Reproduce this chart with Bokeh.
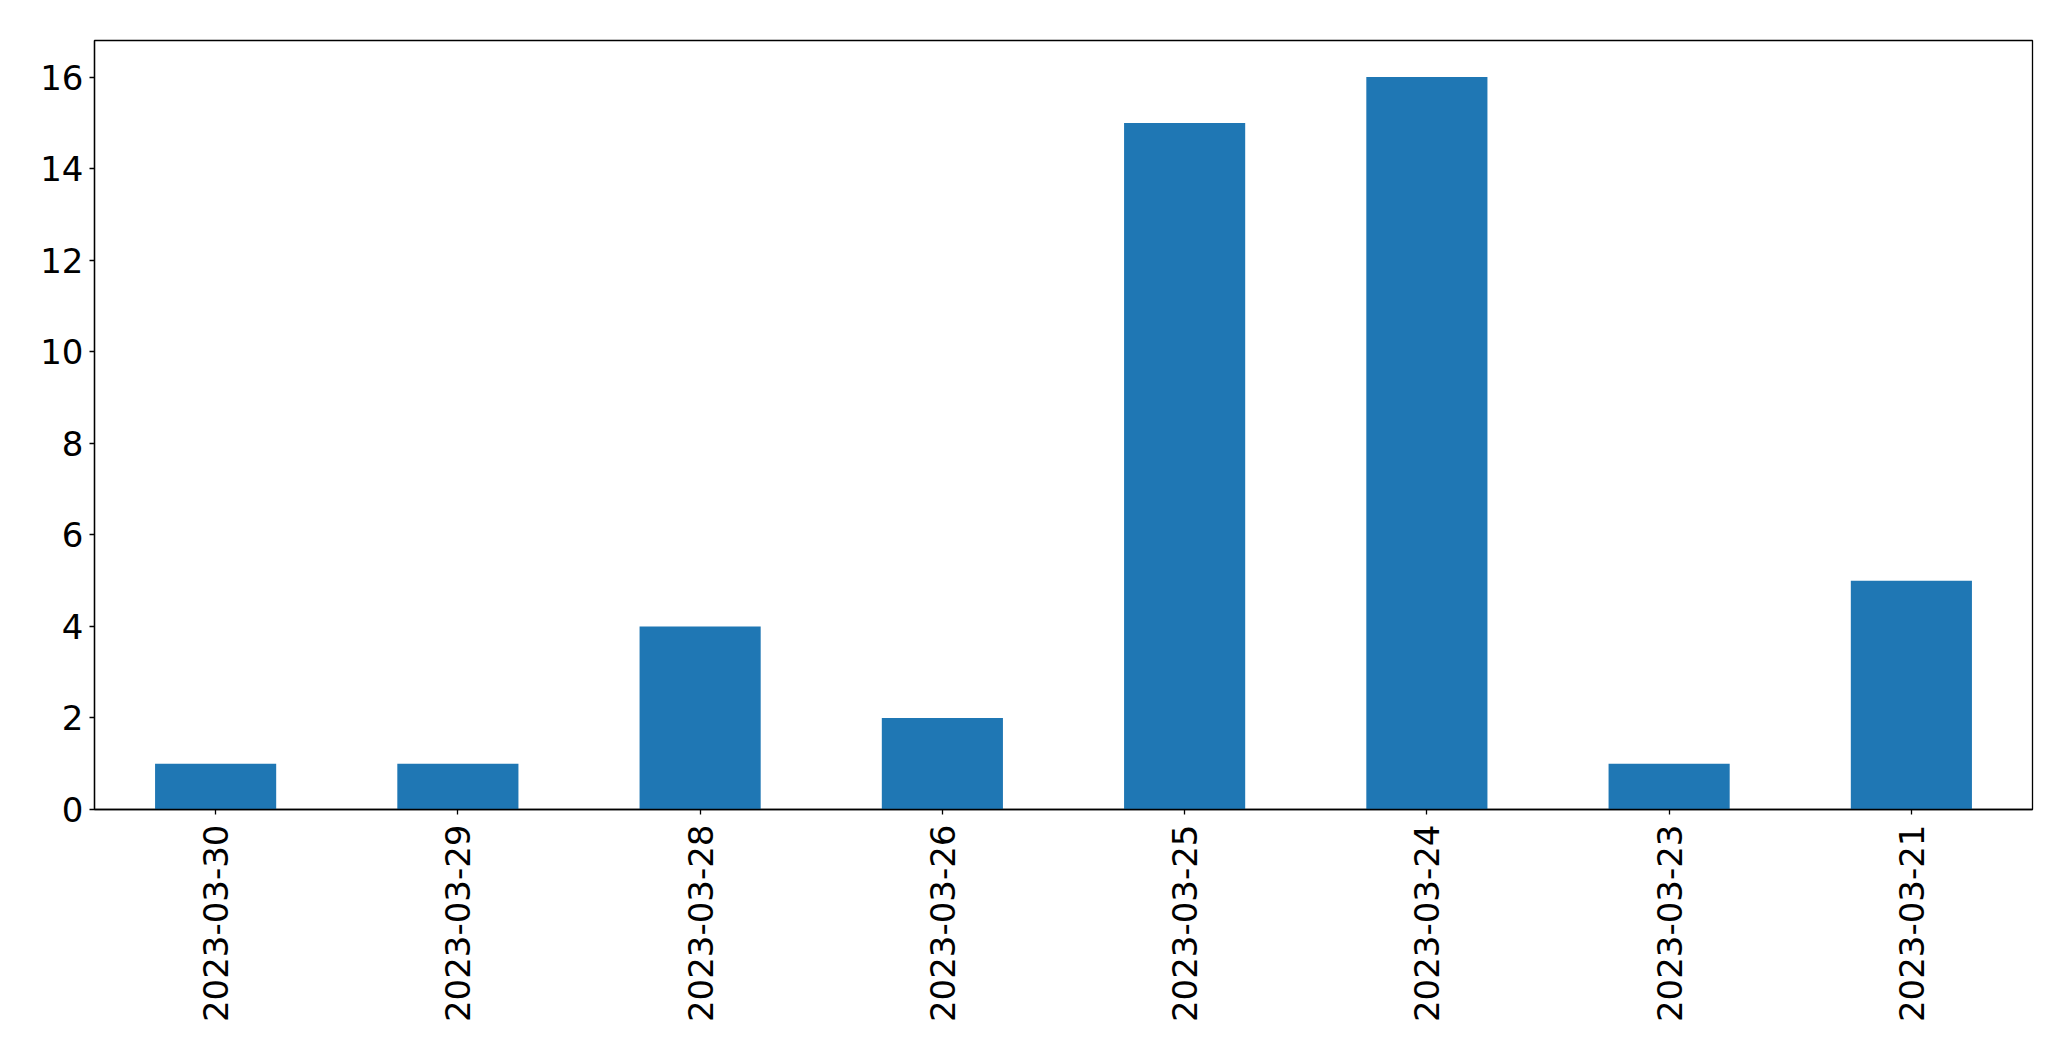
import math
from bokeh.plotting import figure
from bokeh.models import FactorRange, Range1d, FixedTicker
from bokeh.embed import file_html
from bokeh.resources import INLINE

dates = ["2023-03-30", "2023-03-29", "2023-03-28", "2023-03-26",
         "2023-03-25", "2023-03-24", "2023-03-23", "2023-03-21"]
counts = [1, 1, 4, 2, 15, 16, 1, 5]
y_ticks = [0, 2, 4, 6, 8, 10, 12, 14, 16]

p = figure(x_range=FactorRange(*dates), y_range=Range1d(0, 16.8),
           width=2055, height=1045, output_backend="svg", toolbar_location=None,
           min_border_left=94, min_border_top=40, min_border_right=23, min_border_bottom=236)

p.vbar(x=dates, top=counts, width=0.5, fill_color="#1f77b4", line_color=None)

p.xgrid.visible = False
p.ygrid.visible = False
p.outline_line_color = "black"
p.outline_line_width = 1.3
p.outline_line_alpha = 1.0

for ax in (p.xaxis[0], p.yaxis[0]):
    ax.axis_line_color = "black"
    ax.axis_line_width = 1.3
    ax.major_tick_line_color = "black"
    ax.major_tick_line_width = 1.3
    ax.major_tick_out = 5
    ax.major_tick_in = 0
    ax.minor_tick_line_color = None
    ax.major_label_text_font = "DejaVu Sans"
    ax.major_label_text_font_size = "34px"
    ax.major_label_text_color = "black"

p.yaxis[0].ticker = FixedTicker(ticks=y_ticks)
p.yaxis[0].major_label_standoff = 6
p.xaxis[0].major_label_orientation = math.pi / 2
p.xaxis[0].major_label_standoff = 10

open("out.html", "w").write(file_html(p, INLINE))
